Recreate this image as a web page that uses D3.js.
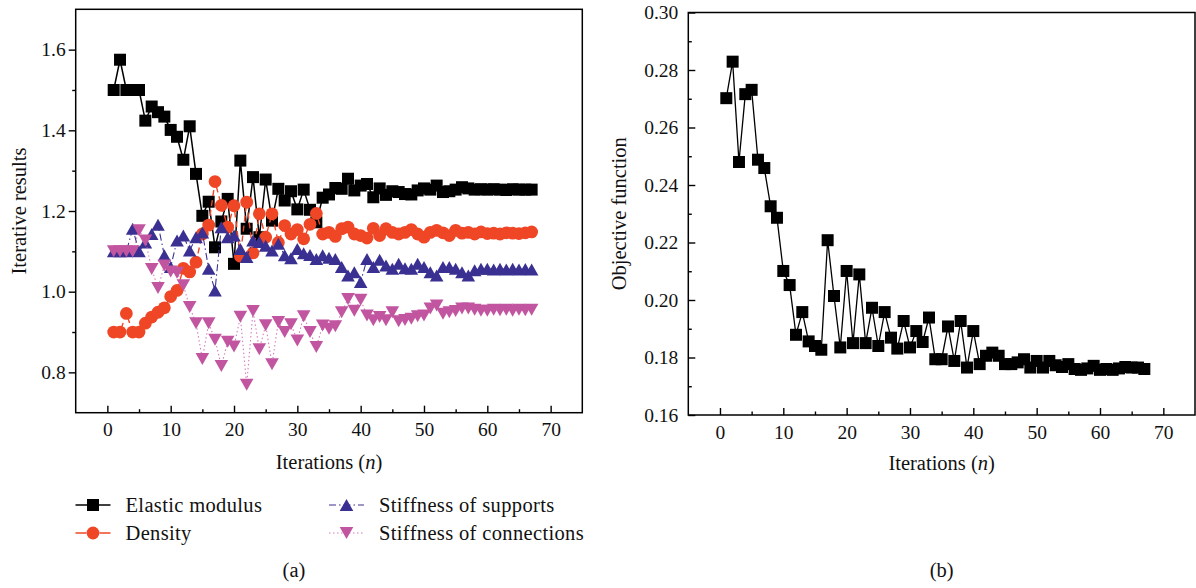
<!DOCTYPE html>
<html>
<head>
<meta charset="utf-8">
<script src="https://cdn.jsdelivr.net/npm/d3@7"></script>
<style>
  body { margin: 0; background: #fff; }
  svg { display: block; font-family: "Liberation Serif", "Times New Roman", serif; }
</style>
</head>
<body>
<svg id="chart" width="1196" height="588"></svg>
<script>
// ---- data -------------------------------------------------------------
const iterations = d3.range(1, 68);

const elasticModulus = [
  1.500, 1.575, 1.500, 1.500, 1.500, 1.424, 1.459, 1.445, 1.434, 1.401,
  1.384, 1.327, 1.410, 1.292, 1.188, 1.223, 1.110, 1.174, 1.230, 1.069,
  1.325, 1.156, 1.284, 1.135, 1.278, 1.176, 1.255, 1.226, 1.249, 1.204,
  1.253, 1.203, 1.172, 1.233, 1.241, 1.257, 1.255, 1.280, 1.251, 1.263,
  1.267, 1.234, 1.256, 1.240, 1.249, 1.247, 1.242, 1.241, 1.251, 1.256,
  1.253, 1.263, 1.247, 1.249, 1.253, 1.259, 1.256, 1.253, 1.254, 1.253,
  1.254, 1.253, 1.252, 1.254, 1.253, 1.253, 1.253
];

const density = [
  0.900, 0.900, 0.946, 0.900, 0.900, 0.922, 0.937, 0.949, 0.960, 0.988,
  1.003, 1.058, 1.049, 1.073, 1.143, 1.165, 1.273, 1.214, 1.160, 1.213,
  1.088, 1.222, 1.096, 1.193, 1.135, 1.193, 1.122, 1.164, 1.143, 1.154,
  1.131, 1.167, 1.194, 1.143, 1.147, 1.137, 1.156, 1.160, 1.143, 1.139,
  1.133, 1.157, 1.139, 1.156, 1.147, 1.143, 1.147, 1.154, 1.143, 1.135,
  1.147, 1.152, 1.146, 1.139, 1.152, 1.145, 1.147, 1.143, 1.148, 1.144,
  1.145, 1.143, 1.146, 1.145, 1.144, 1.146, 1.148
];

const stiffnessSupports = [
  1.100, 1.100, 1.100, 1.156, 1.100, 1.122, 1.143, 1.166, 1.090, 1.061,
  1.127, 1.139, 1.102, 1.135, 1.147, 1.057, 1.003, 1.160, 1.135, 1.139,
  1.106, 1.086, 1.127, 1.123, 1.114, 1.102, 1.119, 1.090, 1.083, 1.106,
  1.095, 1.091, 1.081, 1.090, 1.084, 1.081, 1.061, 1.040, 1.048, 1.024,
  1.081, 1.061, 1.079, 1.065, 1.057, 1.069, 1.058, 1.057, 1.069, 1.061,
  1.048, 1.040, 1.061, 1.061, 1.057, 1.048, 1.040, 1.053, 1.057, 1.057,
  1.055, 1.057, 1.055, 1.057, 1.055, 1.056, 1.055
];

const stiffnessConnections = [
  1.100, 1.100, 1.100, 1.100, 1.152, 1.127, 1.056, 1.009, 1.065, 1.050,
  1.047, 1.016, 0.962, 0.922, 0.833, 0.922, 0.881, 0.816, 0.876, 0.864,
  0.938, 0.769, 0.952, 0.857, 0.917, 0.820, 0.925, 0.900, 0.919, 0.879,
  0.939, 0.900, 0.863, 0.916, 0.908, 0.914, 0.949, 0.982, 0.953, 0.980,
  0.941, 0.929, 0.937, 0.929, 0.949, 0.927, 0.930, 0.933, 0.939, 0.941,
  0.958, 0.966, 0.945, 0.949, 0.952, 0.958, 0.958, 0.955, 0.953, 0.953,
  0.955, 0.954, 0.955, 0.953, 0.955, 0.954, 0.955
];

const objectiveFunction = [
  0.2702, 0.2829, 0.2480, 0.2716, 0.2731, 0.2488, 0.2459, 0.2326, 0.2286, 0.2101,
  0.2052, 0.1879, 0.1958, 0.1856, 0.1840, 0.1827, 0.2208, 0.2014, 0.1835, 0.2101,
  0.1850, 0.2089, 0.1850, 0.1973, 0.1840, 0.1958, 0.1869, 0.1831, 0.1927, 0.1835,
  0.1892, 0.1854, 0.1939, 0.1794, 0.1794, 0.1908, 0.1788, 0.1927, 0.1765, 0.1892,
  0.1777, 0.1806, 0.1817, 0.1806, 0.1777, 0.1777, 0.1783, 0.1794, 0.1765, 0.1788,
  0.1765, 0.1788, 0.1773, 0.1767, 0.1777, 0.1760, 0.1757, 0.1762, 0.1771, 0.1757,
  0.1760, 0.1757, 0.1762, 0.1767, 0.1765, 0.1765, 0.1760
];

const xMajorTicks = [0, 10, 20, 30, 40, 50, 60, 70];
const xMinorTicks = [5, 15, 25, 35, 45, 55, 65];
const leftYMajorTicks = [0.8, 1.0, 1.2, 1.4, 1.6];
const leftYMinorTicks = [0.9, 1.1, 1.3, 1.5];
const rightYMajorTicks = [0.16, 0.18, 0.20, 0.22, 0.24, 0.26, 0.28, 0.30];
const rightYMinorTicks = [0.17, 0.19, 0.21, 0.23, 0.25, 0.27, 0.29];

const seriesNames = ["Elastic modulus", "Density", "Stiffness of supports", "Stiffness of connections"];
const xTitle = "Iterations";
const leftYTitle = "Iterative results";
const rightYTitle = "Objective function";
const panelLabels = ["(a)", "(b)"];

// ---- styling ----------------------------------------------------------
const FONT_TICK = 19.5;
const FONT_TITLE = 20.5;
const FONT_LEGEND = 20.5;

const styles = [
  { color: "#000000", line: "#000000", width: 1.5, dash: null,          shape: "square" },
  { color: "#ef4626", line: "#ef4626", width: 1.4, dash: "6,4",         shape: "circle" },
  { color: "#3a3091", line: "#3a3091", width: 1.1, dash: "7,3,1.5,3",   shape: "up" },
  { color: "#c255a0", line: "#d37fbb", width: 1.1, dash: "1.5,2.5",     shape: "down" }
];

const svg = d3.select("#chart");

// marker path for a shape centred at the origin
function markerPath(shape) {
  if (shape === "square") return d3.symbol(d3.symbolSquare, 144)();
  if (shape === "circle") return d3.symbol(d3.symbolCircle, 128)();
  const w = 13.6, h = 12;
  if (shape === "up") return `M0,${-h / 2}L${w / 2},${h / 2}L${-w / 2},${h / 2}Z`;
  return `M0,${h / 2}L${w / 2},${-h / 2}L${-w / 2},${-h / 2}Z`;
}

// frame, ticks and titles of one panel
function drawPanel(g, x, y, opt) {
  const [x0, x1] = x.range();
  const [y1, y0] = y.range();

  // x axis: ticks pointing into the plot
  const gx = g.append("g").attr("transform", `translate(0,${y1})`);
  gx.call(d3.axisBottom(x).tickValues(xMajorTicks).tickSize(-7).tickPadding(opt.xPad).tickFormat(d3.format("d")));
  gx.append("g").call(d3.axisBottom(x).tickValues(xMinorTicks).tickSize(-3.5).tickFormat(""));

  // y axis
  const gy = g.append("g").attr("transform", `translate(${x0},0)`);
  const ySize = opt.yTicksOut ? 7 : -7;
  const yMinor = opt.yTicksOut ? 3.5 : -3.5;
  gy.call(d3.axisLeft(y).tickValues(opt.yMajor).tickSize(ySize).tickPadding(opt.yPad).tickFormat(d3.format(opt.yFormat)));
  gy.append("g").call(d3.axisLeft(y).tickValues(opt.yMinor).tickSize(yMinor).tickFormat(""));

  g.selectAll(".domain").remove();
  g.selectAll(".tick line").attr("stroke", "#000").attr("stroke-width", 1.4);
  g.selectAll(".tick text")
    .attr("fill", "#111")
    .style("font-family", '"Liberation Serif", "Times New Roman", serif')
    .style("font-size", FONT_TICK + "px");

  // box
  g.append("rect")
    .attr("x", x0).attr("y", y0)
    .attr("width", x1 - x0).attr("height", y1 - y0)
    .attr("fill", "none").attr("stroke", "#000").attr("stroke-width", 1.5);

  // x title with italic n
  const xt = g.append("text")
    .attr("x", (x0 + x1) / 2).attr("y", opt.xTitleY)
    .attr("text-anchor", "middle")
    .attr("fill", "#111")
    .style("font-size", FONT_TITLE + "px");
  xt.append("tspan").text(xTitle + " (");
  xt.append("tspan").attr("font-style", "italic").text("n");
  xt.append("tspan").text(")");

  // y title
  g.append("text")
    .attr("transform", `translate(${opt.yTitleX},${(y0 + y1) / 2}) rotate(-90)`)
    .attr("text-anchor", "middle")
    .attr("fill", "#111")
    .style("font-size", FONT_TITLE + "px")
    .text(opt.yTitle);

  // panel letter
  g.append("text")
    .attr("x", (x0 + x1) / 2 + opt.labelShift).attr("y", 577)
    .attr("text-anchor", "middle")
    .attr("fill", "#111")
    .style("font-size", FONT_TITLE + "px")
    .text(opt.label);
}

function drawSeries(g, x, y, values, st) {
  const pts = iterations.map((n, i) => [n, values[i]]);
  const line = d3.line().x(d => x(d[0])).y(d => y(d[1]));
  g.append("path")
    .attr("d", line(pts))
    .attr("fill", "none")
    .attr("stroke", st.line)
    .attr("stroke-width", st.width)
    .attr("stroke-dasharray", st.dash);
  const p = markerPath(st.shape);
  g.append("g").selectAll("path")
    .data(pts)
    .join("path")
    .attr("d", p)
    .attr("transform", d => `translate(${x(d[0])},${y(d[1])})`)
    .attr("fill", st.color);
}

// ---- panel (a) ----------------------------------------------------------
const xA = d3.scaleLinear().domain([-5, 75]).range([75.7, 582.3]);
const yA = d3.scaleLinear().domain([0.7, 1.7]).range([412.7, 9.3]);
const gA = svg.append("g");

drawPanel(gA, xA, yA, {
  yMajor: leftYMajorTicks, yMinor: leftYMinorTicks, yFormat: ".1f",
  yTicksOut: true, yPad: 3, xPad: 9,
  xTitleY: 469, yTitleX: 26, yTitle: leftYTitle,
  label: panelLabels[0], labelShift: -35
});

const seriesA = [elasticModulus, density, stiffnessSupports, stiffnessConnections];
seriesA.forEach((vals, k) => drawSeries(gA, xA, yA, vals, styles[k]));

// legend below panel (a)
const legendPos = [
  { lx: 75.5, ly: 505 }, { lx: 75.5, ly: 533 },
  { lx: 329, ly: 505 },  { lx: 329, ly: 533 }
];
const legend = svg.append("g");
seriesNames.forEach((name, k) => {
  const st = styles[k], pos = legendPos[k];
  const item = legend.append("g").attr("transform", `translate(${pos.lx},${pos.ly})`);
  item.append("line")
    .attr("x1", 0).attr("x2", 35).attr("y1", 0).attr("y2", 0)
    .attr("stroke", st.line).attr("stroke-width", st.width)
    .attr("stroke-dasharray", k === 1 ? "11,13" : st.dash);
  item.append("path").attr("d", markerPath(st.shape))
    .attr("transform", "translate(17.5,0)").attr("fill", st.color);
  item.append("text")
    .attr("x", 50).attr("y", 7)
    .attr("fill", "#111")
    .style("font-size", FONT_LEGEND + "px")
    .style("letter-spacing", "0.35px")
    .text(name);
});

// ---- panel (b) ----------------------------------------------------------
const xB = d3.scaleLinear().domain([-5, 75]).range([688.3, 1195]);
const yB = d3.scaleLinear().domain([0.16, 0.30]).range([415, 12.5]);
const gB = svg.append("g");

drawPanel(gB, xB, yB, {
  yMajor: rightYMajorTicks, yMinor: rightYMinorTicks, yFormat: ".2f",
  yTicksOut: false, yPad: 10, xPad: 10,
  xTitleY: 470, yTitleX: 626, yTitle: rightYTitle,
  label: panelLabels[1], labelShift: 0
});

drawSeries(gB, xB, yB, objectiveFunction,
  { color: "#000000", line: "#000000", width: 1.3, dash: null, shape: "square" });
</script>
</body>
</html>
